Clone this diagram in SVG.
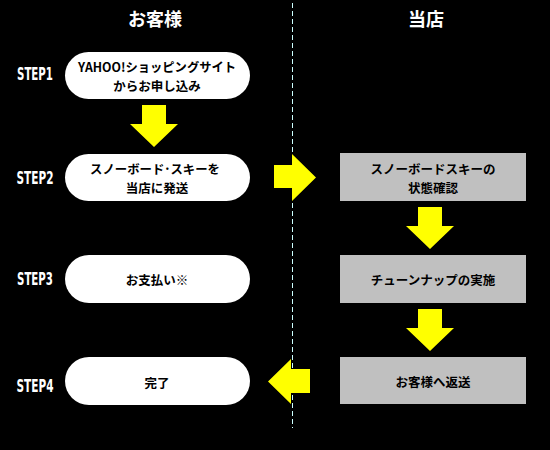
<svg xmlns="http://www.w3.org/2000/svg" width="550" height="450" viewBox="0 0 550 450">
<style>
.bg{fill:#000}
.pill{fill:#fff}
.box{fill:#c0c0c0}
.arr{fill:#ffff00}
.hd{font-family:"Noto Sans CJK JP",sans-serif;font-size:18px;font-weight:bold;fill:#fff;text-anchor:middle}
.t{font-family:"Noto Sans CJK JP",sans-serif;font-size:12.5px;font-weight:bold;fill:#000;text-anchor:middle}
.st{font-family:"Liberation Sans Narrow","DejaVu Sans Condensed",sans-serif;font-size:17px;font-weight:bold;fill:#fff;text-anchor:middle}
.div{stroke:#ccffff;stroke-width:1;stroke-dasharray:5 3;fill:none}
</style>
<rect class="bg" x="0" y="0" width="550" height="450"/>
<line class="div" x1="292.5" y1="3" x2="292.5" y2="428"/>
<g id="headers">
<text class="hd" x="155" y="26">お客様</text>
<text class="hd" x="426" y="26">当店</text>
</g>
<g id="steps">
<text class="st" x="35" y="79.5" textLength="36" lengthAdjust="spacingAndGlyphs">STEP1</text>
<text class="st" x="35" y="183.5" textLength="37" lengthAdjust="spacingAndGlyphs">STEP2</text>
<text class="st" x="35" y="284.5" textLength="36" lengthAdjust="spacingAndGlyphs">STEP3</text>
<text class="st" x="35" y="392" textLength="37" lengthAdjust="spacingAndGlyphs">STEP4</text>
</g>
<g id="node-c1">
<rect class="pill" x="65" y="52" width="185" height="47" rx="23.5"/>
<text class="t" x="157" y="72" textLength="158" lengthAdjust="spacingAndGlyphs">YAHOO!ショッピングサイト</text>
<text class="t" x="157" y="90.5">からお申し込み</text>
</g>
<g id="node-c2">
<rect class="pill" x="65" y="154" width="185" height="47" rx="23.5"/>
<text class="t" x="155" y="174" textLength="130" lengthAdjust="spacingAndGlyphs">スノーボード･スキーを</text>
<text class="t" x="157" y="192.5">当店に発送</text>
</g>
<g id="node-c3">
<rect class="pill" x="65" y="255" width="185" height="48" rx="24"/>
<text class="t" x="157" y="285">お支払い※</text>
</g>
<g id="node-c4">
<rect class="pill" x="65" y="357" width="185" height="48" rx="24"/>
<text class="t" x="157" y="388">完了</text>
</g>
<g id="node-s1">
<rect class="box" x="340" y="153" width="186" height="48"/>
<text class="t" x="433" y="174">スノーボードスキーの</text>
<text class="t" x="433" y="192.5">状態確認</text>
</g>
<g id="node-s2">
<rect class="box" x="340" y="255" width="186" height="48"/>
<text class="t" x="433" y="285">チューンナップの実施</text>
</g>
<g id="node-s3">
<rect class="box" x="340" y="357" width="186" height="47"/>
<text class="t" x="433" y="387">お客様へ返送</text>
</g>
<g id="connectors">
<polygon class="arr" points="142,105 166,105 166,124 178,124 154,147 130,124 142,124"/>
<polygon class="arr" points="274,165 292,165 292,154 316,177.5 292,201 292,188 274,188"/>
<polygon class="arr" points="418,207 442,207 442,226 454,226 430,249 406,226 418,226"/>
<polygon class="arr" points="418,309 442,309 442,328 454,328 430,351 406,328 418,328"/>
<polygon class="arr" points="310,369 291,369 291,359 268,381.5 291,404 291,393 310,393"/>
</g>
</svg>
